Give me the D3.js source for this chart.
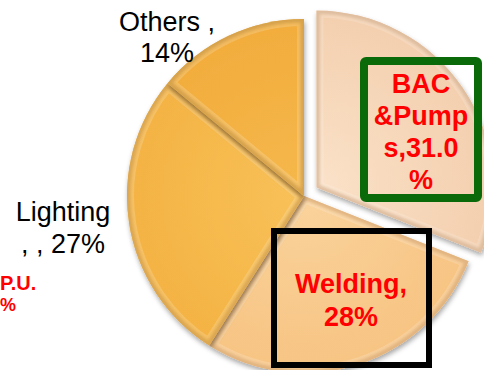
<!DOCTYPE html>
<html><head><meta charset="utf-8">
<script src="https://cdn.jsdelivr.net/npm/d3@7"></script>
<style>html,body{margin:0;padding:0;background:#fff;overflow:hidden}</style>
</head><body><svg id="c" width="484" height="370"></svg>
<script>
// ---- data ----
const categories = ["BAC &Pumps", "Welding", "Lighting", "Others"];
const values = [31, 28, 27, 14];
const labelLines = [["BAC", "&Pump", "s,31.0", "%"], ["Welding,", "28%"], ["Lighting", ", , 27%"], ["Others ,", "14%"]];
const clippedLabel = ["P.U.", "%"];

// ---- styling / layout ----
const baseColors = ["#F3CFAE", "#F7C483", "#F4B343", "#F2AD3D"];
const lightColors = ["#FBE2C9", "#FAD39C", "#F8C159", "#F6B84C"];
const edgeColors = ["#CFA47C", "#D39A58", "#C98A22", "#C2841E"];
const explode = [15, 0, 0, 0];
const cx = 304, cy = 196, R = 177;

const svg = d3.select("#c");
const defs = svg.append("defs");
defs.append("filter").attr("id", "shadow").attr("x", "-20%").attr("y", "-20%").attr("width", "140%").attr("height", "140%")
  .append("feDropShadow").attr("dx", 1).attr("dy", 3).attr("stdDeviation", 2.5)
  .attr("flood-color", "#000").attr("flood-opacity", 0.35);
defs.append("filter").attr("id", "soft").append("feGaussianBlur").attr("stdDeviation", 1.6);

const pie = d3.pie().sort(null).value(d => d)(values);
const arc = d3.arc().innerRadius(0).outerRadius(R);

const g = svg.append("g").attr("transform", `translate(${cx},${cy})`);

pie.forEach((p, i) => {
  const mid = (p.startAngle + p.endAngle) / 2;
  const dx = Math.sin(mid) * explode[i], dy = -Math.cos(mid) * explode[i];
  const sg = g.append("g").attr("transform", `translate(${dx},${dy})`);
  const grad = defs.append("radialGradient").attr("id", "grad" + i)
    .attr("gradientUnits", "userSpaceOnUse").attr("cx", 0).attr("cy", 0).attr("r", R);
  grad.append("stop").attr("offset", "0%").attr("stop-color", lightColors[i]);
  grad.append("stop").attr("offset", "100%").attr("stop-color", baseColors[i]);
  const d = arc(p);
  defs.append("clipPath").attr("id", "clip" + i).append("path").attr("d", d);
  sg.append("path").attr("d", d).attr("fill", `url(#grad${i})`).attr("filter", "url(#shadow)");
  const inner = sg.append("g").attr("clip-path", `url(#clip${i})`);
  inner.append("path").attr("d", d).attr("fill", "none").attr("stroke", edgeColors[i])
    .attr("stroke-width", 7).attr("stroke-opacity", 0.75).attr("filter", "url(#soft)");
  inner.append("path").attr("d", d).attr("fill", "none").attr("stroke", "#fff")
    .attr("stroke-width", 14).attr("stroke-opacity", 0.18).attr("stroke-linejoin", "round");
});

// label boxes
svg.append("rect").attr("x", 364).attr("y", 61).attr("width", 114).attr("height", 137).attr("rx", 2)
  .attr("fill", "none").attr("stroke", "#0A6A0A").attr("stroke-width", 8);
svg.append("rect").attr("x", 274).attr("y", 231).attr("width", 155).attr("height", 134)
  .attr("fill", "none").attr("stroke", "#000").attr("stroke-width", 6);

const font = "Arial, 'Liberation Sans', sans-serif";
const labelPos = [
  {x: 421, y: 93, lh: 32, color: "#FF0000", weight: "bold"},
  {x: 351, y: 293, lh: 33, color: "#FF0000", weight: "bold"},
  {x: 63, y: 221, lh: 32, color: "#000", weight: "normal"},
  {x: 167, y: 31, lh: 31, color: "#000", weight: "normal"}
];
labelLines.forEach((lines, i) => {
  const lp = labelPos[i];
  const t = svg.append("text").attr("text-anchor", "middle").attr("font-family", font)
    .attr("font-size", 27).attr("font-weight", lp.weight).attr("fill", lp.color);
  lines.forEach((s, k) => t.append("tspan").attr("x", lp.x).attr("y", lp.y + k * lp.lh).text(s));
});
svg.append("text").attr("x", 0).attr("y", 290).attr("text-anchor", "start").attr("font-family", font)
  .attr("font-size", 20).attr("font-weight", "bold").attr("fill", "#FF0000").text(clippedLabel[0]);
svg.append("text").attr("x", 0).attr("y", 311).attr("text-anchor", "start").attr("font-family", font)
  .attr("font-size", 18).attr("font-weight", "bold").attr("fill", "#FF0000").text(clippedLabel[1]);
</script></body></html>
